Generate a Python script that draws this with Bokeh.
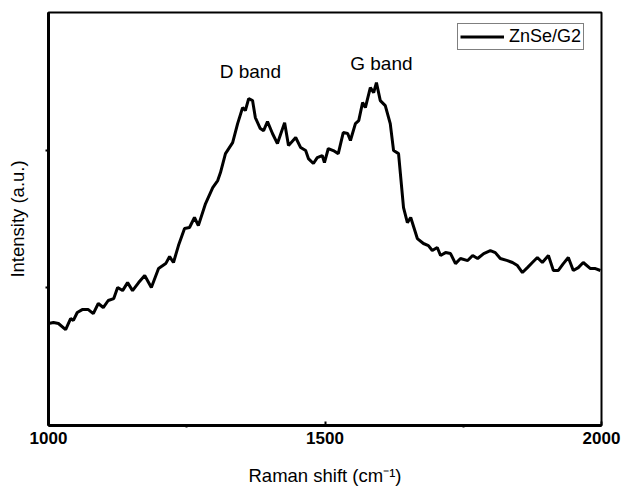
from bokeh.plotting import figure
from bokeh.models import FixedTicker, Legend, LegendItem, Range1d
from bokeh.core.properties import value
from bokeh.embed import file_html
from bokeh.resources import INLINE

# Raman spectrum
raman_shift = [1000, 1009, 1018, 1031, 1040, 1045, 1052, 1061, 1072, 1081, 1090, 1099, 1108, 1118,
               1125, 1134, 1143, 1152, 1163, 1174, 1186, 1199, 1212, 1219, 1226, 1235, 1246, 1255,
               1264, 1271, 1284, 1297, 1306, 1311, 1320, 1333, 1342, 1351, 1356, 1362, 1369, 1374,
               1383, 1389, 1396, 1405, 1414, 1427, 1434, 1447, 1456, 1465, 1470, 1479, 1486, 1495,
               1499, 1506, 1515, 1524, 1533, 1541, 1546, 1555, 1561, 1568, 1573, 1582, 1588, 1593,
               1600, 1609, 1618, 1624, 1633, 1642, 1649, 1655, 1667, 1678, 1687, 1694, 1703, 1709,
               1718, 1727, 1736, 1745, 1758, 1767, 1776, 1787, 1799, 1808, 1817, 1830, 1839, 1848,
               1857, 1866, 1875, 1884, 1893, 1904, 1913, 1922, 1931, 1940, 1949, 1958, 1967, 1980,
               1989, 1998]
intensity = [0.741, 0.748, 0.741, 0.697, 0.777, 0.763, 0.821, 0.842, 0.842, 0.813, 0.886, 0.857, 0.908, 0.922,
             1.002, 0.980, 1.038, 0.980, 1.038, 1.089, 1.002, 1.140, 1.176, 1.227, 1.184, 1.307, 1.431, 1.438,
             1.511, 1.452, 1.612, 1.728, 1.779, 1.837, 1.975, 2.055, 2.193, 2.309, 2.288, 2.375, 2.360, 2.237,
             2.157, 2.142, 2.208, 2.121, 2.048, 2.200, 2.033, 2.092, 2.019, 1.997, 1.939, 1.903, 1.946, 1.961,
             1.910, 2.012, 1.997, 1.975, 2.128, 2.121, 2.070, 2.193, 2.215, 2.346, 2.309, 2.455, 2.418, 2.491,
             2.360, 2.324, 2.193, 1.997, 1.975, 1.583, 1.474, 1.511, 1.358, 1.322, 1.307, 1.271, 1.293, 1.235,
             1.256, 1.249, 1.176, 1.213, 1.198, 1.235, 1.213, 1.249, 1.271, 1.256, 1.213, 1.198, 1.184, 1.162,
             1.111, 1.147, 1.184, 1.220, 1.184, 1.235, 1.126, 1.126, 1.176, 1.220, 1.126, 1.147, 1.184, 1.140,
             1.140, 1.126]

x_ticks = [1000, 1500, 2000]
x_minor_ticks = [1250, 1750]
y_tick_marks = [1, 2]
band_labels = ["D band", "G band"]
band_x = [1365, 1602]
band_y = [2.57, 2.63]
series_name = "ZnSe/G2"

FONT = "Liberation Sans"

p = figure(width=625, height=490, output_backend="svg", toolbar_location=None,
           x_range=Range1d(1000, 2000), y_range=Range1d(0, 3),
           min_border_left=48, min_border_right=24, min_border_top=12, min_border_bottom=65)
p.background_fill_color = "white"
p.border_fill_color = "white"
p.grid.visible = False
p.outline_line_color = "black"
p.outline_line_width = 2

line = p.line(raman_shift, intensity, line_color="black", line_width=3)

p.text(x=band_x, y=band_y, text=band_labels, text_font=value(FONT), text_font_size="19px",
       text_align="center", text_baseline="middle", text_color="black")

xa = p.xaxis[0]
xa.ticker = FixedTicker(ticks=x_ticks, minor_ticks=x_minor_ticks)
xa.axis_line_width = 3
xa.axis_line_color = "black"
xa.major_tick_in = 4
xa.major_tick_out = 0
xa.major_tick_line_width = 2
xa.major_tick_line_color = "black"
xa.minor_tick_in = 0
xa.minor_tick_out = 2
xa.minor_tick_line_width = 2
xa.minor_tick_line_color = "black"
xa.major_label_text_font = FONT
xa.major_label_text_font_style = "bold"
xa.major_label_text_font_size = "17px"
xa.major_label_text_color = "black"
xa.major_label_standoff = 4
xa.axis_label = "Raman shift (cm\u207b\u00b9)"
xa.axis_label_text_font = FONT
xa.axis_label_text_font_style = "normal"
xa.axis_label_text_font_size = "18.5px"
xa.axis_label_text_color = "black"
xa.axis_label_standoff = 18

ya = p.yaxis[0]
# tick marks only, no labels: use minor ticks
ya.ticker = FixedTicker(ticks=[], minor_ticks=y_tick_marks)
ya.axis_line_width = 3
ya.axis_line_color = "black"
ya.major_tick_in = 0
ya.major_tick_out = 0
ya.minor_tick_in = 0
ya.minor_tick_out = 3
ya.minor_tick_line_width = 2
ya.minor_tick_line_color = "black"
ya.axis_label = "Intensity (a.u.)"
ya.axis_label_text_font = FONT
ya.axis_label_text_font_style = "normal"
ya.axis_label_text_font_size = "18.5px"
ya.axis_label_text_color = "black"
ya.axis_label_standoff = 18

legend = Legend(items=[LegendItem(label=series_name, renderers=[line])],
                location=(409, 375), orientation="vertical",
                glyph_width=44, glyph_height=19, label_height=19, label_standoff=5,
                padding=2, spacing=0, margin=0,
                border_line_color="black", border_line_width=1.5,
                label_text_font=FONT, label_text_font_size="18px", label_text_color="black",
                background_fill_color="white", background_fill_alpha=1)
p.add_layout(legend)

open("out.html", "w").write(file_html(p, INLINE))
